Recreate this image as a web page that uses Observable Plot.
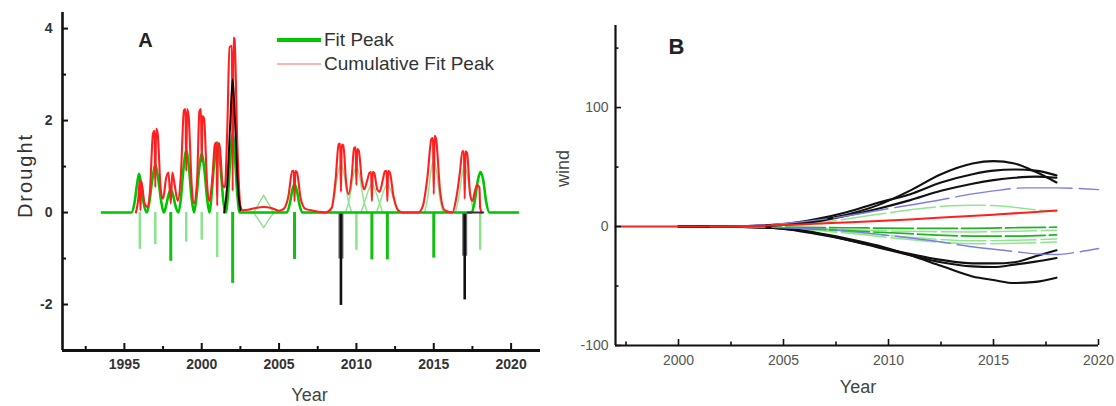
<!DOCTYPE html>
<html>
<head>
<meta charset="utf-8">
<script src="https://cdn.jsdelivr.net/npm/d3@7"></script>
<script src="https://cdn.jsdelivr.net/npm/@observablehq/plot@0.6"></script>
<style>
  html, body { margin: 0; padding: 0; background: #fff; }
  #wrap { position: relative; width: 1116px; height: 406px; overflow: hidden; font-family: "Liberation Sans", Arial, sans-serif; }
  #panelA { position: absolute; left: 0; top: 0; }
  #panelB { position: absolute; left: 558px; top: 0; }
  .leg { position: absolute; color: #333; font-size: 19px; line-height: 1; white-space: nowrap; }
  .sw { position: absolute; }
</style>
</head>
<body>
<div id="wrap">
  <div id="panelA"></div>
  <div id="panelB"></div>
  <div class="sw" style="left:277px; top:38px; width:44px; height:4px; background:#00c800;"></div>
  <div class="leg" style="left:324px; top:30px;">Fit Peak</div>
  <div class="sw" style="left:277px; top:63px; width:44px; height:2px; background:#ffb3b3;"></div>
  <div class="leg" style="left:324px; top:54px;">Cumulative Fit Peak</div>
</div>
<script>
// ---------------- Panel A data (Year, Drought) ----------------
const fitPeak = [
  [1993.55,0],[1995.45,0],[1995.65,0.2],[1995.82,0.62],[1995.95,0.84],[1996.08,0.62],[1996.25,0.2],[1996.45,0],
  [1996.6,0.2],[1996.8,0.7],[1997.0,1.05],[1997.2,0.7],[1997.4,0.2],[1997.55,0],
  [1997.7,0.15],[1997.85,0.38],[1998.0,0.5],[1998.15,0.38],[1998.3,0.15],[1998.5,0],
  [1998.65,0.3],[1998.82,0.95],[1999.0,1.35],[1999.18,0.95],[1999.35,0.3],[1999.5,0],
  [1999.65,0.3],[1999.82,0.9],[2000.0,1.27],[2000.18,0.9],[2000.35,0.3],[2000.5,0],
  [2000.6,0.25],[2000.8,1.05],[2001.0,1.52],[2001.2,1.05],[2001.4,0.25],[2001.55,0],
  [2001.7,0.4],[2001.85,1.2],[2002.0,1.7],[2002.15,1.2],[2002.3,0.4],[2002.45,0],
  [2005.5,0],[2005.7,0.2],[2005.85,0.48],[2006.0,0.62],[2006.15,0.48],[2006.3,0.2],[2006.5,0],
  [2017.45,0],[2017.65,0.25],[2017.85,0.7],[2018.02,0.88],[2018.2,0.7],[2018.38,0.25],[2018.6,0],
  [2020.45,0]
];
const lightBell2009 = [[2008.3,0],[2008.55,0.3],[2008.8,0.85],[2009.0,1.05],[2009.2,0.85],[2009.45,0.3],[2009.7,0]];
const lightBell2010 = [[2009.3,0],[2009.55,0.3],[2009.8,0.8],[2010.0,1.0],[2010.2,0.8],[2010.45,0.3],[2010.7,0]];
const lightBell2011 = [[2010.3,0],[2010.55,0.25],[2010.8,0.5],[2011.0,0.62],[2011.2,0.5],[2011.45,0.25],[2011.7,0]];
const lightBell2012 = [[2011.3,0],[2011.55,0.25],[2011.8,0.5],[2012.0,0.62],[2012.2,0.5],[2012.45,0.25],[2012.7,0]];
const lightBell2015 = [[2014.4,0],[2014.6,0.3],[2014.82,0.9],[2015.0,1.15],[2015.18,0.9],[2015.4,0.3],[2015.6,0]];
const lightBell2017 = [[2016.4,0],[2016.6,0.3],[2016.82,0.8],[2017.0,1.02],[2017.18,0.8],[2017.4,0.3],[2017.6,0]];
const diamondTop = [[2003.35,0],[2003.7,0.2],[2004.0,0.38],[2004.3,0.2],[2004.65,0]];
const diamondBottom = [[2003.35,0],[2003.7,-0.17],[2004.0,-0.33],[2004.3,-0.17],[2004.65,0]];
const cumulative = [
  [1995.75,0],[1995.9,0.3],[1996.0,0.72],[1996.04,0.05],[1996.1,0.68],[1996.3,0.2],[1996.5,0.12],
  [1996.65,0.45],[1996.85,1.72],[1996.95,1.78],[1997.0,0.55],[1997.05,1.82],[1997.15,1.72],[1997.35,0.5],[1997.5,0.3],
  [1997.7,0.75],[1997.85,0.87],[1998.0,0.2],[1998.1,0.87],[1998.25,0.6],[1998.45,0.25],
  [1998.65,0.8],[1998.85,2.22],[1998.95,2.25],[1999.0,0.9],[1999.05,2.25],[1999.15,2.1],[1999.35,0.6],[1999.5,0.2],
  [1999.7,0.7],[1999.85,2.2],[1999.95,2.25],[2000.0,1.1],[2000.05,2.1],[2000.15,2.05],[2000.35,0.6],[2000.5,0.25],
  [2000.7,0.8],[2000.85,1.48],[2000.95,1.52],[2001.0,0.15],[2001.05,1.5],[2001.15,1.5],[2001.35,0.6],[2001.5,0.55],
  [2001.65,1.8],[2001.8,3.6],[2001.95,3.62],[2002.0,0.47],[2002.05,3.8],[2002.12,3.78],[2002.3,1.5],[2002.5,0.15],[2002.65,0.05],
  [2003.0,0.06],[2003.5,0.1],[2004.0,0.12],[2004.5,0.1],[2005.0,0.04],[2005.3,0.08],
  [2005.6,0.35],[2005.85,0.9],[2005.95,0.91],[2006.0,0.25],[2006.05,0.9],[2006.15,0.88],[2006.4,0.3],[2006.7,0.08],[2007.2,0.04],[2008.0,0],
  [2008.4,0.1],[2008.65,0.7],[2008.85,1.48],[2008.95,1.5],[2009.0,0.45],[2009.05,1.48],[2009.15,1.46],[2009.35,0.6],[2009.5,0.4],
  [2009.7,0.8],[2009.85,1.4],[2009.95,1.42],[2010.0,0.6],[2010.05,1.38],[2010.15,1.35],[2010.35,0.7],[2010.5,0.5],
  [2010.7,0.7],[2010.85,0.87],[2010.95,0.88],[2011.0,0.25],[2011.05,0.88],[2011.15,0.86],[2011.35,0.5],[2011.5,0.45],
  [2011.7,0.7],[2011.85,0.9],[2011.95,0.9],[2012.0,0.25],[2012.05,0.9],[2012.15,0.88],[2012.4,0.35],[2012.7,0.05],[2013.0,0],[2014.0,0],
  [2014.3,0.15],[2014.6,0.8],[2014.85,1.6],[2014.95,1.62],[2015.0,0.4],[2015.05,1.67],[2015.15,1.6],[2015.4,0.5],[2015.7,0.05],[2016.2,0],
  [2016.45,0.3],[2016.7,0.9],[2016.85,1.33],[2016.95,1.33],[2017.0,0.3],[2017.05,1.33],[2017.15,1.3],[2017.35,0.4],[2017.5,0.25],
  [2017.65,0.45],[2017.8,0.6],[2017.95,0.55],[2018.0,0.1],[2018.1,0]
];
const blackPeak = [[2001.45,0],[2001.65,0.6],[2001.85,2.0],[2002.0,2.9],[2002.15,2.0],[2002.35,0.5],[2002.5,0.05]];
const blackBase = [[2017.2,0],[2018.2,0]];
const darkSpikeYears = [1998, 2002, 2006, 2011, 2012, 2015];
const darkSpikeDepth = [-1.06, -1.54, -1.02, -1.03, -1.03, -0.99];
const lightSpikeYears = [1996, 1997, 1999, 2000, 2001, 2010, 2018];
const lightSpikeDepth = [-0.8, -0.7, -0.64, -0.6, -0.98, -0.82, -0.82];
const blackSpikeYears = [2009, 2017];
const blackSpikeDepth = [-2.02, -1.9];
const xTicksA = [1995, 2000, 2005, 2010, 2015, 2020];
const xMinorA = [1992.5, 1997.5, 2002.5, 2007.5, 2012.5, 2017.5];
const yTicksA = [-2, 0, 2, 4];
const yMinorA = [-1, 1, 3];

// ---------------- Panel B data (Year, wind) ----------------
const blackUp1 = [[2000,0],[2003,0.3],[2005,1.5],[2006.5,5],[2008,10],[2009.5,18],[2011,30],[2012.5,44],[2014,53],[2015,55],[2016,53],[2017,46],[2018,37]];
const blackUp2 = [[2000,0],[2003,0.4],[2005,2],[2006.5,6],[2008,12],[2009.5,20],[2011,27],[2012.5,37],[2014,44],[2015,47],[2016,48],[2017,47],[2018,43]];
const blackUp3 = [[2001,0],[2003,0.3],[2005,1.5],[2006.5,4],[2008,9],[2009.5,15],[2011,22],[2012.5,30],[2014,36],[2015,39],[2016,41],[2017,42],[2018,41]];
const blackLo1 = [[2000,0],[2003,-0.3],[2005,-1.5],[2006.5,-5],[2008,-10],[2009.5,-16],[2011,-24],[2012.5,-33],[2014,-42],[2015,-45],[2016,-47.5],[2017,-46.5],[2018,-43]];
const blackLo2 = [[2000,0],[2003,-0.4],[2005,-2],[2006.5,-6],[2008,-11],[2009.5,-17],[2011,-23],[2012.5,-28],[2014,-31],[2015,-31],[2016,-30],[2017,-25],[2018,-20]];
const blackLo3 = [[2000,0],[2003,-0.3],[2005,-1.8],[2006.5,-5.5],[2008,-11],[2009.5,-17.5],[2011,-24],[2012.5,-30],[2014,-33.5],[2015,-34],[2016,-32],[2017,-29.5],[2018,-26.5]];
const blueUp = [[2001.5,0],[2003,0.5],[2005,2.5],[2007.5,7.5],[2010,15],[2012.5,22.5],[2014,27.5],[2015,30],[2016.5,32.5],[2018,32.5],[2020,31]];
const blueLo = [[2001.5,0],[2003,-0.3],[2005,-1],[2007.5,-3],[2010,-7.5],[2012.5,-13],[2014,-17],[2016,-21],[2017,-23],[2018,-23.5],[2019,-21.5],[2020,-18.5]];
const greenUp = [[2003,0],[2005,1],[2007,4],[2009,9],[2011,14],[2013,17.5],[2014,18],[2015.5,17],[2017,14],[2018,12.5]];
const greenA = [[2003,0],[2005,-0.5],[2008,-1],[2011,-1.5],[2014,-1.5],[2016,-1],[2018,-0.5]];
const greenB = [[2003,0],[2005,-0.8],[2008,-2.5],[2011,-4],[2014,-4.5],[2016,-4],[2018,-3]];
const greenC = [[2003,0],[2005,-1],[2008,-3.5],[2011,-6],[2014,-8],[2016,-8],[2018,-7]];
const greenD = [[2003,0],[2005,-1.2],[2008,-4.5],[2011,-9],[2014,-12],[2016,-11.5],[2018,-10.5]];
const greenE = [[2003,0],[2005,-1.5],[2008,-5.5],[2011,-11],[2014,-14.5],[2016,-14],[2018,-13]];
const redLine = [[1997,0],[2001,0],[2003,0.3],[2005,1.2],[2007,2.8],[2009,4.3],[2011,6],[2013,8],[2015,10],[2017,12.2],[2018,13.5]];
const xTicksB = [2000, 2005, 2010, 2015, 2020];
const xMinorB = [1997.5, 2002.5, 2007.5, 2012.5, 2017.5];
const yTicksB = [-100, 0, 100];
const yMinorB = [-50, 50, 150];

// ---------------- helpers ----------------
const rows = (arr, id) => arr.map(([x, y]) => ({x, y, id}));
const spikes = (xs, ys) => xs.map((x, i) => ({x, y: ys[i]}));
const font = "Liberation Sans, Arial, sans-serif";

const lightBells = [
  ...rows(lightBell2009, "b9"), ...rows(lightBell2010, "b10"), ...rows(lightBell2011, "b11"),
  ...rows(lightBell2012, "b12"), ...rows(lightBell2015, "b15"), ...rows(lightBell2017, "b17")
];
const diamond = [...rows(diamondTop, "t"), ...rows(diamondBottom, "b")];

// panel A scale extents
const xDomA = [1991, 2021.9], yDomA = [-3, 4.35];
const pxPerYA = 338 / (yDomA[1] - yDomA[0]);
const pxPerXA = 478 / (xDomA[1] - xDomA[0]);

const chartA = Plot.plot({
  width: 558, height: 406,
  marginLeft: 62, marginRight: 18, marginTop: 12, marginBottom: 56,
  x: {domain: xDomA},
  y: {domain: yDomA},
  style: {fontFamily: font, background: "transparent", overflow: "visible"},
  marks: [
    Plot.line(lightBells, {x: "x", y: "y", z: "id", stroke: "#93e393", strokeWidth: 1.5, curve: "monotone-x"}),
    Plot.line(diamond, {x: "x", y: "y", z: "id", stroke: "#8fe08f", strokeWidth: 1.4}),
    Plot.ruleX(spikes(lightSpikeYears, lightSpikeDepth), {x: "x", y1: 0, y2: "y", stroke: "#8be38b", strokeWidth: 2.5}),
    Plot.ruleX(spikes(darkSpikeYears, darkSpikeDepth), {x: "x", y1: 0, y2: "y", stroke: "#12bf12", strokeWidth: 3}),
    Plot.ruleX(spikes(blackSpikeYears, blackSpikeDepth.map(d => d / 2)), {x: "x", y1: 0, y2: "y", stroke: "#666", strokeWidth: 5}),
    Plot.ruleX(spikes(blackSpikeYears, blackSpikeDepth), {x: "x", y1: 0, y2: "y", stroke: "#111", strokeWidth: 2.6}),
    Plot.line(rows(fitPeak, "f"), {x: "x", y: "y", stroke: "#00c400", strokeWidth: 2.6, curve: "monotone-x"}),
    Plot.line(rows(cumulative, "c"), {x: "x", y: "y", stroke: "#ff1f1f", strokeWidth: 2.1, curve: "monotone-x"}),
    Plot.line(rows(blackPeak, "k"), {x: "x", y: "y", stroke: "#2a0000", strokeWidth: 2, curve: "monotone-x"}),
    Plot.line(rows(blackBase, "kb"), {x: "x", y: "y", stroke: "#333", strokeWidth: 2}),
    // inward ticks
    Plot.ruleX(xTicksA, {x: d => d, y1: yDomA[0], y2: yDomA[0] + 7 / pxPerYA, stroke: "#111", strokeWidth: 2}),
    Plot.ruleX(xMinorA, {x: d => d, y1: yDomA[0], y2: yDomA[0] + 4 / pxPerYA, stroke: "#111", strokeWidth: 2}),
    Plot.ruleY(yTicksA, {y: d => d, x1: xDomA[0], x2: xDomA[0] + 6 / pxPerXA, stroke: "#111", strokeWidth: 2}),
    Plot.ruleY(yMinorA, {y: d => d, x1: xDomA[0], x2: xDomA[0] + 4 / pxPerXA, stroke: "#111", strokeWidth: 2}),
    Plot.ruleX([xDomA[0]], {stroke: "#111", strokeWidth: 2.6}),
    Plot.ruleY([yDomA[0]], {stroke: "#111", strokeWidth: 3}),
    Plot.axisX(xTicksA, {tickSize: 0, tickPadding: 9, tickFormat: d => String(d), fontSize: 14, fontWeight: "bold", fill: "#333", label: null}),
    Plot.axisY(yTicksA, {tickSize: 0, tickPadding: 10, tickFormat: d => String(d), fontSize: 14, fontWeight: "bold", fill: "#333", label: null}),
    Plot.text(["Drought"], {frameAnchor: "left", dx: -37, dy: -6, rotate: -90, fontSize: 20, fill: "#333", textAnchor: "middle", lineAnchor: "middle"}),
    Plot.text(["Year"], {frameAnchor: "bottom", dx: 8, dy: 45, fontSize: 18, fill: "#444", textAnchor: "middle", lineAnchor: "middle"}),
    Plot.text(["A"], {frameAnchor: "top-left", dx: 83, dy: 28, fontSize: 20, fontWeight: "bold", fill: "#222", textAnchor: "middle", lineAnchor: "middle"})
  ]
});
chartA.querySelectorAll("text").forEach(t => { if (t.textContent === "Drought") t.style.letterSpacing = "2px"; });
document.getElementById("panelA").appendChild(chartA);

// panel B scale extents
const xDomB = [1997, 2020], yDomB = [-100, 169];
const pxPerYB = 320 / (yDomB[1] - yDomB[0]);
const pxPerXB = 483 / (xDomB[1] - xDomB[0]);
const curveB = "monotone-x";

const chartB = Plot.plot({
  width: 558, height: 406,
  marginLeft: 57, marginRight: 18, marginTop: 25, marginBottom: 61,
  x: {domain: xDomB},
  y: {domain: yDomB},
  style: {fontFamily: font, background: "transparent", overflow: "visible"},
  marks: [
    Plot.line([...rows(greenUp, "gu"), ...rows(greenB, "gb"), ...rows(greenD, "gd"), ...rows(greenE, "ge")], {x: "x", y: "y", z: "id", stroke: "#8fe68f", strokeWidth: 1.5, strokeDasharray: "45,5", curve: curveB}),
    Plot.line([...rows(greenA, "ga"), ...rows(greenC, "gc")], {x: "x", y: "y", z: "id", stroke: "#1fb41f", strokeWidth: 1.7, strokeDasharray: "40,4", curve: curveB}),
    Plot.line([...rows(blackUp1, "u1"), ...rows(blackUp2, "u2"), ...rows(blackUp3, "u3"), ...rows(blackLo1, "l1"), ...rows(blackLo2, "l2"), ...rows(blackLo3, "l3")], {x: "x", y: "y", z: "id", stroke: "#111", strokeWidth: 2.1, curve: curveB}),
    Plot.line([...rows(blueUp, "bu"), ...rows(blueLo, "bl")], {x: "x", y: "y", z: "id", stroke: "#7d7de6", strokeWidth: 1.4, strokeDasharray: "55,7", curve: curveB}),
    Plot.line(rows(redLine, "r"), {x: "x", y: "y", stroke: "#ff1f1f", strokeWidth: 2, curve: curveB}),
    Plot.ruleX(xTicksB, {x: d => d, y1: yDomB[0], y2: yDomB[0] + 6 / pxPerYB, stroke: "#111", strokeWidth: 1.6}),
    Plot.ruleX(xMinorB, {x: d => d, y1: yDomB[0], y2: yDomB[0] + 3.5 / pxPerYB, stroke: "#111", strokeWidth: 1.6}),
    Plot.ruleY(yTicksB, {y: d => d, x1: xDomB[0], x2: xDomB[0] + 6 / pxPerXB, stroke: "#111", strokeWidth: 1.6}),
    Plot.ruleY(yMinorB, {y: d => d, x1: xDomB[0], x2: xDomB[0] + 3.5 / pxPerXB, stroke: "#111", strokeWidth: 1.6}),
    Plot.ruleX([xDomB[0]], {stroke: "#111", strokeWidth: 2.2}),
    Plot.ruleY([yDomB[0]], {stroke: "#111", strokeWidth: 2.2}),
    Plot.axisX(xTicksB, {tickSize: 0, tickPadding: 10, tickFormat: d => String(d), fontSize: 14, fill: "#555", label: null}),
    Plot.axisY(yTicksB, {tickSize: 0, tickPadding: 7, tickFormat: d => String(d), fontSize: 14, fill: "#555", label: null}),
    Plot.text(["wind"], {frameAnchor: "left", dx: -52, dy: -17, rotate: -90, fontSize: 18, fill: "#444", textAnchor: "middle", lineAnchor: "middle"}),
    Plot.text(["Year"], {frameAnchor: "bottom", dx: 1, dy: 42, fontSize: 18, fill: "#444", textAnchor: "middle", lineAnchor: "middle"}),
    Plot.text(["B"], {frameAnchor: "top-left", dx: 61, dy: 21, fontSize: 22, fontWeight: "bold", fill: "#222", textAnchor: "middle", lineAnchor: "middle"})
  ]
});
document.getElementById("panelB").appendChild(chartB);
</script>
</body>
</html>
